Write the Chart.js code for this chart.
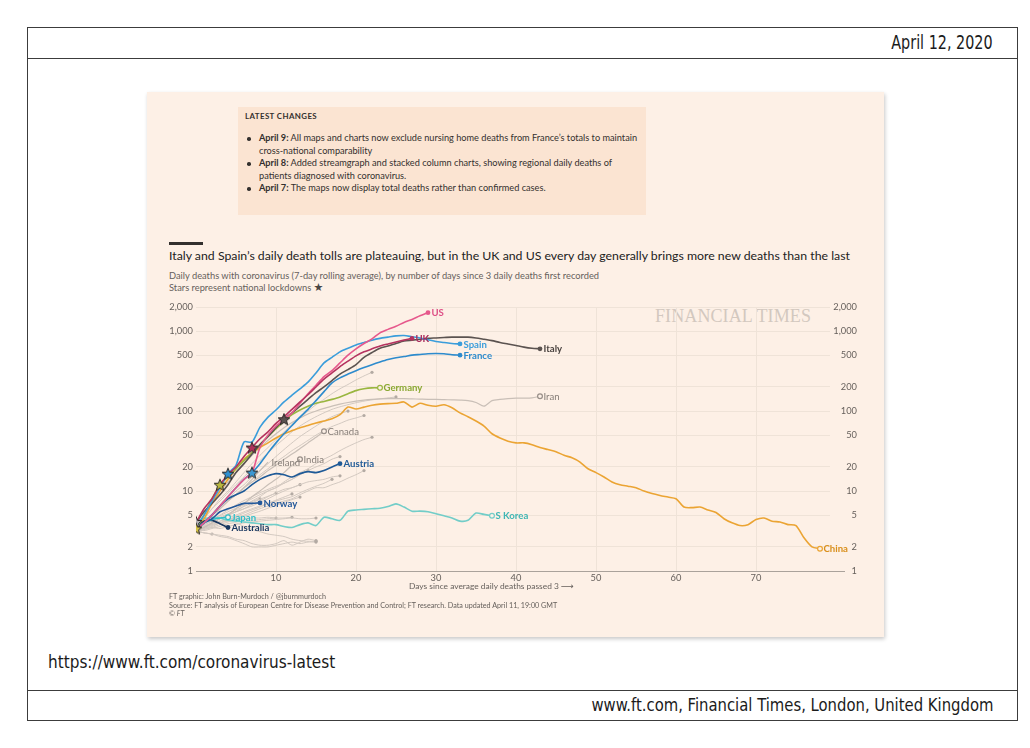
<!DOCTYPE html>
<html>
<head>
<meta charset="utf-8">
<script src="https://cdn.jsdelivr.net/npm/chart.js@4.4.1/dist/chart.umd.min.js"></script>
<style>
  body { margin: 0; width: 1030px; height: 748px; background: #fff; position: relative; overflow: hidden; }
  .abs { position: absolute; white-space: nowrap; }
  .frame { left: 27px; top: 27px; width: 989px; height: 692px; border: 1px solid #3c3c3c; }
  .rule { left: 27px; width: 991px; height: 1px; background: #3c3c3c; }
  .narrow { font-family: "Liberation Sans Narrow", "DejaVu Sans Condensed", sans-serif; color: #1b1b1b; }
  #panel { left: 147px; top: 92px; width: 737px; height: 545px; background: #fdf0e6; box-shadow: 1px 2px 4px rgba(0,0,0,0.22); }
  #changes { left: 238px; top: 107px; width: 408px; height: 108px; background: #fbe4d2; }
  .ft { font-family: Lato, "Noto Sans", sans-serif; color: #33302e; }
  .grey { color: #66605c; }
  .bullet { width: 3.6px; height: 3.6px; border-radius: 50%; background: #33302e; }
</style>
</head>
<body>
<div class="abs frame"></div>
<div class="abs rule" style="top:58px"></div>
<div class="abs rule" style="top:690px"></div>
<div class="abs narrow" style="right:37px;top:31px;font-size:19px;transform:scaleX(0.84);transform-origin:right center;">April 12, 2020</div>
<div class="abs narrow" style="left:48px;top:652px;font-size:17px;">https://www.ft.com/coronavirus-latest</div>
<div class="abs narrow" style="right:37px;top:695px;font-size:17px;transform:scaleX(0.97);transform-origin:right center;">www.ft.com, Financial Times, London, United Kingdom</div>

<div class="abs" id="panel"></div>
<div class="abs" id="changes"></div>
<div class="abs ft" style="left:245px;top:111px;font-size:7.9px;font-weight:700;letter-spacing:0.4px;">LATEST CHANGES</div>
<div class="abs bullet" style="left:247px;top:137px"></div>
<div class="abs bullet" style="left:247px;top:162px"></div>
<div class="abs bullet" style="left:247px;top:187px"></div>
<div class="abs ft" style="left:259px;top:132px;font-size:9.2px;line-height:12.6px;">
  <b>April 9:</b> All maps and charts now exclude nursing home deaths from France’s totals to maintain<br>
  cross-national comparability<br>
  <b>April 8:</b> Added streamgraph and stacked column charts, showing regional daily deaths of<br>
  patients diagnosed with coronavirus.<br>
  <b>April 7:</b> The maps now display total deaths rather than confirmed cases.
</div>

<div class="abs" style="left:169px;top:242px;width:34px;height:2.5px;background:#33302e"></div>
<div class="abs ft" style="left:169px;top:248px;font-size:12.3px;color:#222;">Italy and Spain’s daily death tolls are plateauing, but in the UK and US every day generally brings more new deaths than the last</div>
<div class="abs ft grey" style="left:169px;top:270px;font-size:9.3px;line-height:12px;">Daily deaths with coronavirus (7-day rolling average), by number of days since 3 daily deaths first recorded<br>Stars represent national lockdowns <span style="font-family:'DejaVu Sans';color:#4a4542;font-size:11px">★</span></div>
<div class="abs" style="left:655px;top:306px;font-family:'Liberation Serif','DejaVu Serif',serif;font-size:18px;color:#d3c8bf;letter-spacing:0.1px;">FINANCIAL TIMES</div>

<canvas id="chart" class="abs" width="720" height="305" style="left:150px;top:295px;"></canvas>

<div class="abs ft grey" style="left:409px;top:581px;font-size:8.4px;">Days since average daily deaths passed 3 <span style="font-family:'DejaVu Sans';font-size:9px">⟶</span></div>
<div class="abs ft grey" style="left:169px;top:593px;font-size:7.2px;line-height:8.5px;">FT graphic: John Burn-Murdoch / @jburnmurdoch<br>Source: FT analysis of European Centre for Disease Prevention and Control; FT research. Data updated April 11, 19:00 GMT<br><i>© FT</i></div>

<script>
// Daily deaths (7-day rolling average), one value per day since 3 daily deaths were first recorded
const us = [3.3, 4, 5, 6.5, 8.5, 11, 14, 17, 35, 50, 65, 78, 95, 125, 165, 210, 270, 320, 400, 500, 600, 700, 800, 950, 1050, 1150, 1280, 1400, 1550, 1700];
const uk = [4, 6, 8, 12, 16, 20, 27, 35, 45, 55, 70, 85, 105, 130, 160, 200, 250, 300, 360, 420, 490, 550, 600, 650, 690, 730, 770, 810];
const spain = [3.5, 5, 7.5, 11, 16.5, 21, 41, 41, 63, 84, 103, 130, 158, 190, 230, 300, 400, 470, 550, 610, 670, 720, 770, 810, 840, 870, 880, 850, 820, 780, 740, 720, 700, 690];
const france = [3.3, 4, 5, 6.5, 8.5, 11, 14, 17, 22, 30, 40, 52, 66, 84, 105, 135, 175, 225, 260, 290, 320, 350, 380, 410, 440, 465, 480, 500, 510, 520, 525, 520, 505, 500];
const italy = [4, 5.5, 7, 9, 12, 17, 22, 29, 38, 48, 62, 79, 95, 115, 140, 170, 200, 240, 290, 330, 380, 470, 540, 610, 650, 700, 750, 770, 790, 810, 820, 830, 840, 840, 840, 820, 790, 760, 720, 690, 660, 630, 610, 600];
const germany = [3.3, 5, 8, 12, 15, 19, 24, 30, 38, 48, 60, 75, 90, 103, 115, 125, 132, 140, 150, 165, 180, 190, 195, 195];
const iran = [3.5, 5, 7, 10, 13, 17, 22, 28, 35, 43, 52, 62, 72, 82, 92, 100, 108, 115, 122, 128, 133, 137, 140, 142, 143, 143, 143, 142, 141, 140, 140, 139, 138, 137, 135, 128, 115, 135, 140, 143, 145, 145, 146, 153];
const china = [3.2, 4.5, 7, 10, 14, 19, 25, 30, 35, 40, 46, 52, 57, 62, 66, 71, 75, 80, 90, 112,
  106, 112, 118, 122, 124, 125, 130, 112, 125, 118, 115, 120, 110, 95, 85, 75, 65, 52, 46, 42,
  40, 40, 38, 35, 33, 31, 28, 26, 23, 19, 17, 15, 13, 12, 11.5, 11, 10, 9.3, 8.8, 8.4,
  8, 6.3, 6.2, 6.3, 5.8, 5.4, 4.5, 4, 3.7, 3.8, 4.4, 4.6, 4.2, 4.1, 3.8, 3.7, 2.6, 2.0, 1.9];
const sKorea = [4.3, 4.5, 4.7, 4.6, 4.3, 4.2, 4.1, 4.0, 3.9, 3.8, 3.8, 3.6, 3.5, 3.8, 4.0, 3.7, 4.7, 4.5, 4.3, 5.6, 5.8, 5.9, 6.0, 6.1, 6.4, 6.9, 6.3, 5.6, 5.6, 5.5, 5.2, 4.9, 4.6, 4.2, 4.3, 5.3, 5.1, 4.9];
const austria = [3.3, 4, 5, 6.5, 8, 9, 10, 12, 14, 15.5, 16.5, 16, 15, 16.5, 17.5, 17, 18, 20, 22];
const norway = [3.4, 4, 4.5, 5.5, 6, 6.5, 7, 7, 7.1];
const japan = [3.4, 4, 4.4, 4.6, 4.7];
const australia = [3.4, 4.2, 4.3, 3.9, 3.5];
const canada = [3.3, 4, 5, 6, 7.5, 9, 11, 13, 15, 18, 21, 25, 29, 34, 40, 47, 56];
const india = [3.2, 3.5, 4, 4.5, 5, 6, 7, 8.5, 10, 12, 14, 17, 21, 25];
const ireland = [3.3, 4, 5, 6, 7.5, 9, 11, 14, 18, 23];

// Unlabelled countries drawn in grey
const other01 = [3.5, 4.5, 6, 8, 10, 13, 17, 22, 28, 35, 44, 55, 68, 82, 100, 120, 140, 165, 190, 215, 245, 275, 305];
const other02 = [3.5, 4.5, 6, 7.5, 9.5, 12, 15, 19, 24, 30, 37, 45, 55, 65, 75, 85, 95, 105, 113, 120, 127, 133, 138, 142, 146, 150];
const other03 = [3.3, 4, 5, 6, 7.5, 9, 11, 13, 16, 19, 23, 27, 32, 37, 43, 50, 57, 64, 70, 77, 82, 88];
const other04 = [3.4, 4.2, 5.2, 6.5, 8, 10, 12, 15, 18, 22, 27, 33, 40, 48, 56, 65, 75, 85, 93, 100];
const other05 = [3.2, 3.6, 4, 4.5, 5, 6, 7, 8, 9, 10, 11, 13, 15, 17, 19, 22, 25, 28, 32, 36, 40, 44, 47];
const other06 = [3.2, 3.5, 4, 4.5, 5, 5.5, 6.5, 7.5, 8.5, 10, 11, 12.5, 14, 16, 18, 20, 22, 25, 27];
const other07 = [3.2, 3.4, 3.6, 4, 4.3, 4.7, 5, 5.5, 6, 6.5, 7, 7.5, 8, 9, 10, 11, 11, 12, 13, 14.5, 16, 18];
const other08 = [3.3, 3.6, 4, 4.5, 5, 5.5, 6, 6.8, 7.5, 8.5, 9.5, 10.5, 11, 12, 13, 13.5, 14, 15, 15.5];
const other09 = [3.2, 3.5, 3.8, 4.2, 4.6, 5, 5.5, 6, 6.5, 7, 7.5, 8, 8.5, 9.5, 10.5, 11.5, 12.5, 14];
const other10 = [3.3, 3.8, 4.4, 5, 5.8, 6.7, 7.6, 8.5, 9.5, 10.5, 11.5, 12.5, 14, 16, 18];
const other11 = [3.2, 3.6, 4, 4.5, 5, 5.5, 6, 6.5, 7.2, 8, 9, 10, 11, 12];
const other12 = [3.1, 3.4, 3.7, 4, 4.4, 4.8, 5.3, 5.8, 6.3, 7, 7.7, 8.4, 9.2];
const other13 = [3.2, 3.3, 3.5, 3.8, 4.1, 4.4, 4.8, 5.2, 5.6, 6.1, 6.6, 7.2, 7.8, 8.4];
const other14 = [3.3, 3.7, 4.2, 4.7, 5.2, 5.8, 6.4, 7.1, 7.9, 8.6, 9.4];
const other15 = [3.3, 3.8, 4.3, 4.9, 5.5, 6.1, 6.7, 7.4, 8];
const other16 = [3.1, 3.3, 3.5, 3.4, 3.6, 3.8, 4, 4.1, 4.2, 4.3, 4.4, 4.5, 4.6, 4.5, 4.5, 4.6];
const other17 = [3.2, 3.5, 3.8, 4, 4.2, 4.4, 4.5, 4.6, 4.6, 4.7, 4.6, 4.6, 4.7];
const other18 = [3.3, 3.6, 3.9, 4.2, 4.4, 4.5, 4.4, 4.3, 4.4, 4.5, 4.6];
const other19 = [3.2, 3.0, 2.9, 2.8, 2.7, 2.5, 2.4, 2.2, 2.1, 2.1, 2.2, 2.4, 2.1, 2.3, 2.5, 2.4];
const other20 = [3.3, 3.2, 3.4, 3.6, 3.9, 4, 3.6, 3.3, 3.1, 2.9, 2.8, 2.7, 2.5, 2.4, 2.35, 2.35];
const other21 = [3.1, 3.0, 2.9, 2.7, 2.6, 2.4, 2.2, 2.0, 2.0, 2.0, 2.1, 2.2, 2.3, 2.2, 2.3, 2.3];
const other22 = [3.2, 3.0, 2.9];

// National lockdowns (stars)
const lockdownDays = [0, 0, 3, 4, 7, 7, 11];
const lockdownValues = [4.1, 3.4, 12, 16.5, 35, 17, 79];
const lockdownColours = ["#b3b0b4", "#d2bf45", "#b9b73e", "#2f8fcf", "#b0315a", "#3b97d2", "#5a5250"];

const yTicks = [1, 2, 5, 10, 20, 50, 100, 200, 500, 1000, 2000];
const xTicks = [10, 20, 30, 40, 50, 60, 70];

const BG = "#fdf0e6";
const GREY_LINE = "#d3c9c1";
const GREY_DOT = "#b3aaa3";
const GREY_TEXT = "#857d77";

function points(values) {
  return values.map((v, i) => ({ x: i, y: v }));
}

function series(values, colour, opts = {}) {
  const last = values.length - 1;
  return {
    data: points(values),
    borderColor: colour,
    borderWidth: opts.width || 1.6,
    pointRadius: (c) => (c.dataIndex === last ? (opts.dot === undefined ? 2.4 : opts.dot) : 0),
    pointBackgroundColor: opts.hollow ? BG : (opts.dotColour || colour),
    pointBorderColor: opts.dotColour || colour,
    pointBorderWidth: opts.hollow ? 1.2 : 0,
    tension: 0.25,
    order: opts.order || 2,
    endLabel: opts.label,
    labelColour: opts.labelColour || colour,
    labelWeight: opts.labelWeight || "bold",
  };
}

function starImage(fill) {
  const c = document.createElement("canvas");
  c.width = 14; c.height = 14;
  const g = c.getContext("2d");
  g.beginPath();
  for (let k = 0; k < 10; k++) {
    const r = k % 2 ? 2.7 : 6.2;
    const a = -Math.PI / 2 + (k * Math.PI) / 5;
    g.lineTo(7 + r * Math.cos(a), 7.6 + r * Math.sin(a));
  }
  g.closePath();
  g.fillStyle = fill;
  g.fill();
  g.strokeStyle = "#2b2725";
  g.lineWidth = 1;
  g.stroke();
  return c;
}

const greyOthers = [other01, other02, other03, other04, other05, other06, other07, other08, other09, other10,
  other11, other12, other13, other14, other15, other16, other17, other18, other19, other20, other21, other22];

const datasets = [
  ...greyOthers.map((s) => series(s, GREY_LINE, { width: 1, dot: 1.6, dotColour: GREY_DOT, order: 10 })),
  series(iran, "#c9bfb7", { width: 1.2, hollow: true, dotColour: "#978e88", label: "Iran", labelColour: GREY_TEXT, labelWeight: "normal", order: 9 }),
  series(canada, "#c9bfb7", { width: 1.2, hollow: true, dotColour: "#978e88", label: "Canada", labelColour: GREY_TEXT, labelWeight: "normal", order: 9 }),
  series(india, "#c9bfb7", { width: 1.2, hollow: true, dotColour: "#978e88", label: "India", labelColour: GREY_TEXT, labelWeight: "normal", order: 9 }),
  series(ireland, "#c9bfb7", { width: 1.2, dot: 0, label: "Ireland", labelColour: GREY_TEXT, labelWeight: "normal", order: 9 }),
  series(china, "#eba433", { hollow: true, label: "China", labelColour: "#d98f1c", order: 5 }),
  series(sKorea, "#72cdc8", { hollow: true, label: "S Korea", labelColour: "#3fb6b4", order: 5 }),
  series(germany, "#9ab640", { hollow: true, label: "Germany", labelColour: "#8aa832", order: 4 }),
  series(austria, "#1f5a97", { label: "Austria", order: 4 }),
  series(norway, "#23589a", { label: "Norway", order: 4 }),
  series(japan, "#2ebfca", { hollow: true, label: "Japan", order: 4 }),
  series(australia, "#17365f", { label: "Australia", order: 4 }),
  series(france, "#2d8bcd", { label: "France", order: 3 }),
  series(italy, "#5b5350", { label: "Italy", labelColour: "#4a4340", order: 3 }),
  series(spain, "#3a9ddb", { label: "Spain", order: 2 }),
  series(uk, "#b5325f", { label: "UK", labelColour: "#a8295a", order: 1 }),
  series(us, "#e6588c", { label: "US", labelColour: "#de4f86", order: 1 }),
  {
    data: lockdownDays.map((d, i) => ({ x: d, y: lockdownValues[i] })),
    showLine: false,
    pointStyle: lockdownColours.map(starImage),
    pointRadius: 6,
    order: 0,
  },
];

const endLabels = {
  id: "endLabels",
  afterDatasetsDraw(chart) {
    const ctx = chart.ctx;
    chart.data.datasets.forEach((ds, i) => {
      if (!ds.endLabel) return;
      const meta = chart.getDatasetMeta(i);
      const pt = meta.data[meta.data.length - 1];
      ctx.save();
      ctx.font = ds.labelWeight + " 9.6px Lato, 'Noto Sans', sans-serif";
      ctx.fillStyle = ds.labelColour;
      ctx.textBaseline = "middle";
      ctx.fillText(ds.endLabel, pt.x + 3.5, pt.y + 0.5);
      ctx.restore();
    });
  },
};

const axisTail = {
  id: "axisTail",
  afterDraw(chart) {
    const { ctx, chartArea } = chart;
    ctx.save();
    ctx.strokeStyle = "#aaa29b";
    ctx.lineWidth = 1;
    ctx.beginPath();
    ctx.moveTo(chartArea.right, chartArea.bottom + 0.5);
    ctx.lineTo(chartArea.right + 15, chartArea.bottom + 0.5);
    ctx.stroke();
    ctx.restore();
  },
};

const tickFont = { family: "Lato, 'Noto Sans', sans-serif", size: 9.3 };

new Chart(document.getElementById("chart"), {
  type: "line",
  data: { datasets },
  options: {
    responsive: false,
    animation: false,
    events: [],
    layout: { padding: { top: 12, right: 13, left: 0, bottom: 0 } },
    plugins: { legend: { display: false }, tooltip: { enabled: false } },
    scales: {
      x: {
        type: "linear",
        min: 0,
        max: 79.25,
        afterBuildTicks: (s) => { s.ticks = xTicks.map((v) => ({ value: v })); },
        afterFit: (s) => { s.height = 29; },
        grid: { color: "#efe3d8", drawTicks: false },
        border: { color: "#aaa29b" },
        ticks: { color: "#66605c", font: tickFont, padding: 1, maxRotation: 0 },
      },
      y: {
        type: "logarithmic",
        position: "left",
        min: 1,
        max: 2000,
        afterBuildTicks: (s) => { s.ticks = yTicks.map((v) => ({ value: v })); },
        afterFit: (s) => { s.width = 46; },
        grid: { color: "#efe3d8", drawTicks: false },
        border: { display: false },
        ticks: { color: "#66605c", font: tickFont, padding: 3, callback: (v) => v.toLocaleString("en-US") },
      },
      y2: {
        type: "logarithmic",
        position: "right",
        min: 1,
        max: 2000,
        afterBuildTicks: (s) => { s.ticks = yTicks.map((v) => ({ value: v })); },
        afterFit: (s) => { s.width = 27; },
        grid: { display: false },
        border: { display: false },
        ticks: { color: "#66605c", font: tickFont, padding: 0, crossAlign: "far", callback: (v) => v.toLocaleString("en-US") },
      },
    },
  },
  plugins: [endLabels, axisTail],
});
</script>
</body>
</html>
